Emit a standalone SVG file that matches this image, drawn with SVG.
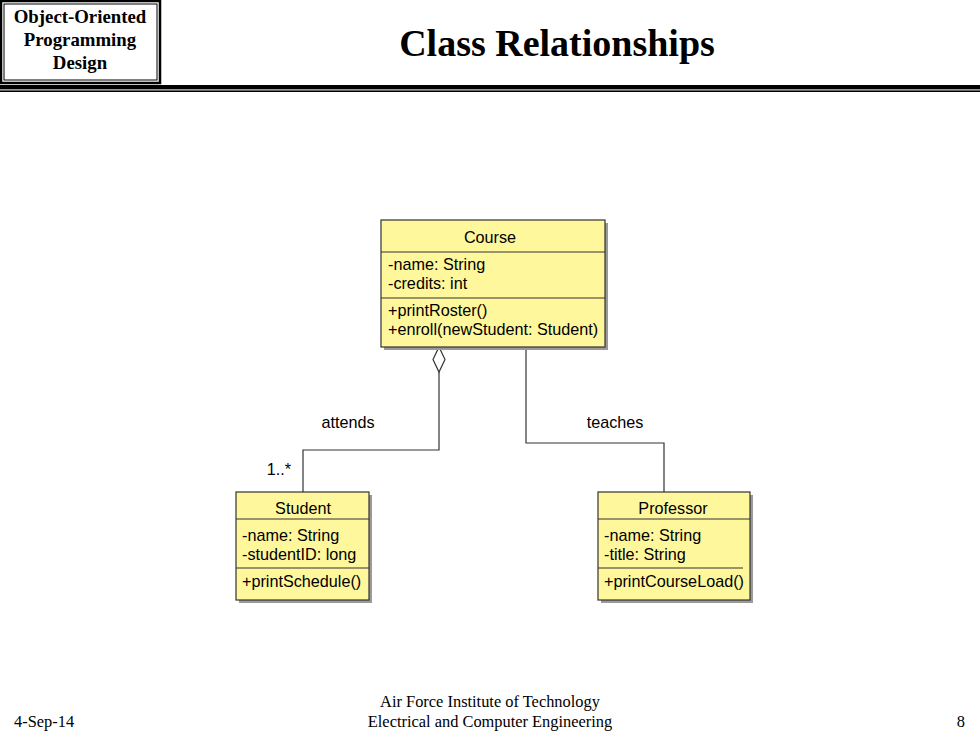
<svg xmlns="http://www.w3.org/2000/svg" width="980" height="735" viewBox="0 0 980 735">
<style>
.cls{fill:#FFF79C;stroke:#333;stroke-width:1.2}
.sh{fill:#9a9a9a}
.div{stroke:#333;stroke-width:1.2}
.t{font-family:"Liberation Sans",Arial,sans-serif;font-size:16.2px;fill:#000}
.c{text-anchor:middle}
.conn{fill:none;stroke:#333;stroke-width:1.2}
.ser{font-family:"Liberation Serif","Times New Roman",serif;fill:#000}
</style>
<rect width="980" height="735" fill="#fff"/>
<g id="header">
<rect x="1" y="1" width="159" height="82" fill="none" stroke="#000" stroke-width="2.5"/>
<rect x="4" y="4" width="153" height="76" fill="none" stroke="#000" stroke-width="1"/>
<text class="ser" x="80" y="23" font-size="18.8" font-weight="bold" text-anchor="middle">Object-Oriented</text>
<text class="ser" x="80" y="46" font-size="18.8" font-weight="bold" text-anchor="middle">Programming</text>
<text class="ser" x="80" y="69" font-size="18.8" font-weight="bold" text-anchor="middle">Design</text>
<text class="ser" x="557" y="56" font-size="38" font-weight="bold" text-anchor="middle">Class Relationships</text>
<rect x="0" y="85" width="980" height="4" fill="#000"/>
<rect x="0" y="89" width="980" height="1.5" fill="#999"/>
<rect x="0" y="90.5" width="980" height="1.5" fill="#000"/>
</g>
<g id="connectors">
<path class="conn" d="M439,372 V450 H303 V492"/>
<path d="M439,347 L445,359.5 L439,372 L433,359.5 Z" fill="#fff" stroke="#333" stroke-width="1.2"/>
<path class="conn" d="M526,347 V443 H664 V492"/>
<text class="t c" x="348" y="428">attends</text>
<text class="t c" x="279" y="475">1..*</text>
<text class="t c" x="615" y="428">teaches</text>
</g>
<g id="course">
<rect class="sh" x="384" y="223" width="224" height="127"/>
<rect class="cls" x="381" y="220" width="224" height="127"/>
<line class="div" x1="381" y1="252" x2="605" y2="252"/>
<line class="div" x1="381" y1="298" x2="605" y2="298"/>
<text class="t c" x="490" y="243">Course</text>
<text class="t" x="388" y="270">-name: String</text>
<text class="t" x="388" y="289">-credits: int</text>
<text class="t" x="388" y="316">+printRoster()</text>
<text class="t" x="388" y="335">+enroll(newStudent: Student)</text>
</g>
<g id="student">
<rect class="sh" x="239" y="495" width="133" height="108"/>
<rect class="cls" x="236" y="492" width="133" height="108"/>
<line class="div" x1="236" y1="519" x2="369" y2="519"/>
<line class="div" x1="236" y1="568" x2="369" y2="568"/>
<text class="t c" x="303" y="514">Student</text>
<text class="t" x="242" y="541">-name: String</text>
<text class="t" x="242" y="560">-studentID: long</text>
<text class="t" x="242" y="587">+printSchedule()</text>
</g>
<g id="professor">
<rect class="sh" x="601" y="495" width="152" height="108"/>
<rect class="cls" x="598" y="492" width="152" height="108"/>
<line class="div" x1="598" y1="519" x2="750" y2="519"/>
<line class="div" x1="598" y1="568" x2="743" y2="568"/>
<text class="t c" x="673" y="514">Professor</text>
<text class="t" x="604" y="541">-name: String</text>
<text class="t" x="604" y="560">-title: String</text>
<text class="t" x="604" y="587">+printCourseLoad()</text>
</g>
<g id="footer">
<text class="ser" x="14" y="727" font-size="16.4">4-Sep-14</text>
<text class="ser" x="490" y="707" font-size="16.4" text-anchor="middle">Air Force Institute of Technology</text>
<text class="ser" x="490" y="727" font-size="16.4" text-anchor="middle">Electrical and Computer Engineering</text>
<text class="ser" x="965" y="727" font-size="16.4" text-anchor="end">8</text>
</g>
</svg>
